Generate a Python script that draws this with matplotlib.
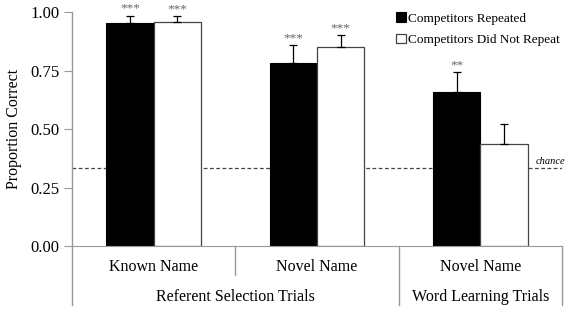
import numpy as np
import matplotlib
matplotlib.use("Agg")
from matplotlib import pyplot as plt

# values
groups = ["Known Name", "Novel Name", "Novel Name"]
trial_types = ["Referent Selection Trials", "Word Learning Trials"]
repeated = [0.952, 0.782, 0.657]
repeated_err = [0.032, 0.076, 0.087]
not_repeated = [0.958, 0.851, 0.435]
not_repeated_err = [0.025, 0.050, 0.085]
stars_rep = ["***", "***", "**"]
stars_not = ["***", "***", ""]
chance = 1 / 3
yticks = [0.0, 0.25, 0.5, 0.75, 1.0]

plt.rcParams["font.family"] = ["Liberation Serif", "DejaVu Serif"]

fig = plt.figure(figsize=(5.7, 3.11), dpi=100)
ax = fig.add_axes([0.126, 0.209, 0.86, 0.752])

x = np.arange(len(groups))
w = 0.29
ax.bar(x - w / 2, repeated, w, color="black", edgecolor="black", linewidth=0.8,
       label="Competitors Repeated", zorder=2)
ax.bar(x + w / 2, not_repeated, w, color="white", edgecolor="#444444", linewidth=0.9,
       label="Competitors Did Not Repeat", zorder=2)
ax.errorbar(x - w / 2, repeated, yerr=[np.zeros(3), repeated_err], fmt="none",
            ecolor="black", elinewidth=0.9, capsize=3, capthick=0.9, zorder=3)
ax.errorbar(x + w / 2, not_repeated, yerr=[np.zeros(3), not_repeated_err], fmt="none",
            ecolor="black", elinewidth=0.9, capsize=3, capthick=0.9, zorder=3)

for i in range(len(groups)):
    ax.text(x[i] - w / 2, repeated[i] + repeated_err[i] + 0.005, stars_rep[i],
            ha="center", va="bottom", fontsize=9.5, color="#666666")
    if stars_not[i]:
        ax.text(x[i] + w / 2, not_repeated[i] + not_repeated_err[i] + 0.005, stars_not[i],
                ha="center", va="bottom", fontsize=9.5, color="#666666")

ax.axhline(chance, color="#444444", linestyle=(0, (3, 2)), linewidth=0.9, zorder=1)
ax.text(2.52, chance + 0.01, "chance", ha="right", va="bottom", fontsize=7.5,
        style="italic", clip_on=False)

ax.set_xlim(-0.5, 2.5)
ax.set_ylim(0, 1.0)
ax.set_yticks(yticks)
ax.set_yticklabels(["%.2f" % t for t in yticks], fontsize=12)
ax.set_ylabel("Proportion Correct", fontsize=11.5, labelpad=6)
ax.set_xticks([])
for s in ["top", "right", "left"]:
    ax.spines[s].set_visible(False)
ax.spines["bottom"].set_color("#999999")
ax.tick_params(axis="y", direction="out", length=6, color="#999999", pad=3)

# axis line and group separators below the plot
tr = ax.transAxes
gray = "#999999"
ax.plot([0, 0], [-0.252, 1.0], transform=tr, color=gray, lw=1, clip_on=False)
ax.plot([1 / 3, 1 / 3], [0, -0.124], transform=tr, color=gray, lw=1, clip_on=False)
ax.plot([2 / 3, 2 / 3], [0, -0.252], transform=tr, color=gray, lw=1, clip_on=False)
ax.plot([1, 1], [0, -0.252], transform=tr, color=gray, lw=1, clip_on=False)

for i, g in enumerate(groups):
    ax.text((i + 0.5) / 3, -0.09, g, transform=tr, ha="center", va="center", fontsize=11.5)
ax.text(1 / 3, -0.22, trial_types[0], transform=tr, ha="center", va="center", fontsize=11.5)
ax.text(5 / 6, -0.22, trial_types[1], transform=tr, ha="center", va="center", fontsize=11.5)

leg = ax.legend(loc="upper right", bbox_to_anchor=(1.02, 1.05), frameon=False, fontsize=9.5,
                handlelength=0.7, handleheight=0.7, handletextpad=0.2, labelspacing=0.7)

fig.savefig("out.png", dpi=100)
